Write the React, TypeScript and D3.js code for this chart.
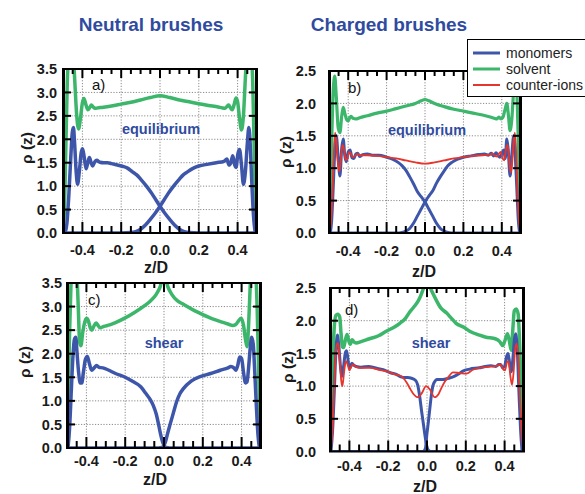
import React from 'react';
import * as d3 from 'd3';

type Pt = [number, number];

// axis ticks
const xTicks = [-0.4, -0.2, 0, 0.2, 0.4];
const yTicksNeutral = [0, 0.5, 1, 1.5, 2, 2.5, 3, 3.5];
const yTicksCharged = [0, 0.5, 1, 1.5, 2, 2.5];

const legendNames = ['monomers', 'solvent', 'counter-ions'];
const colMono = '#3d56aa';
const colSolv = '#3cb66a';
const colIons = '#e5352c';

// a) neutral, equilibrium
const aSolvent: Pt[] = [[-0.5,0],[-0.492,0.6],[-0.485,1.9],[-0.478,3.2],[-0.47,3.9],[-0.46,4.2],[-0.45,4.0],[-0.44,3.3],[-0.43,2.55],[-0.42,2.22],[-0.41,2.45],[-0.4,2.78],[-0.392,2.87],[-0.382,2.74],[-0.372,2.63],[-0.362,2.68],[-0.354,2.73],[-0.345,2.69],[-0.335,2.66],[-0.32,2.67],[-0.3,2.68],[-0.25,2.71],[-0.2,2.75],[-0.15,2.79],[-0.1,2.84],[-0.05,2.89],[0,2.93],[0.05,2.89],[0.1,2.84],[0.15,2.8],[0.2,2.76],[0.25,2.72],[0.3,2.69],[0.32,2.67],[0.335,2.66],[0.345,2.7],[0.354,2.73],[0.362,2.68],[0.372,2.63],[0.382,2.74],[0.392,2.88],[0.4,2.8],[0.41,2.45],[0.42,2.2],[0.43,2.5],[0.44,3.3],[0.45,4.0],[0.46,4.2],[0.47,3.9],[0.478,3.2],[0.485,1.9],[0.492,0.6],[0.5,0]];
const aMonoLeft: Pt[] = [[-0.49,0],[-0.48,0.2],[-0.47,0.8],[-0.46,1.6],[-0.452,2.15],[-0.446,2.25],[-0.44,1.9],[-0.432,1.3],[-0.425,1.04],[-0.415,1.35],[-0.406,1.72],[-0.399,1.8],[-0.39,1.6],[-0.381,1.37],[-0.372,1.5],[-0.364,1.61],[-0.355,1.5],[-0.347,1.43],[-0.336,1.52],[-0.326,1.55],[-0.31,1.51],[-0.29,1.5],[-0.27,1.5],[-0.25,1.48],[-0.22,1.45],[-0.19,1.42],[-0.17,1.39],[-0.14,1.3],[-0.12,1.24],[-0.1,1.15],[-0.07,1.0],[-0.04,0.83],[-0.02,0.7],[0,0.57],[0.025,0.42],[0.05,0.29],[0.075,0.17],[0.1,0.08],[0.125,0.03],[0.15,0.01],[0.2,0],[0.49,0]];
const aMonoRight: Pt[] = [[-0.49,0],[-0.2,0],[-0.15,0.01],[-0.125,0.03],[-0.1,0.08],[-0.075,0.17],[-0.05,0.29],[-0.025,0.42],[0,0.57],[0.02,0.7],[0.04,0.83],[0.07,1.0],[0.1,1.15],[0.12,1.24],[0.14,1.3],[0.17,1.38],[0.2,1.43],[0.25,1.47],[0.29,1.5],[0.33,1.53],[0.345,1.58],[0.355,1.45],[0.365,1.5],[0.375,1.65],[0.385,1.45],[0.392,1.4],[0.402,1.7],[0.41,1.78],[0.42,1.45],[0.43,1.04],[0.44,1.3],[0.45,1.9],[0.458,2.25],[0.465,1.9],[0.472,1.2],[0.48,0.5],[0.488,0.1],[0.492,0]];

// b) charged, equilibrium
const bSolvent: Pt[] = [[-0.5,0],[-0.493,0.5],[-0.486,1.4],[-0.478,2.2],[-0.47,2.42],[-0.462,2.1],[-0.452,1.62],[-0.443,1.55],[-0.434,1.8],[-0.426,1.94],[-0.418,1.85],[-0.408,1.75],[-0.4,1.73],[-0.392,1.78],[-0.385,1.8],[-0.375,1.77],[-0.36,1.76],[-0.34,1.78],[-0.3,1.81],[-0.25,1.85],[-0.2,1.88],[-0.15,1.92],[-0.1,1.96],[-0.05,2.0],[-0.02,2.04],[0,2.06],[0.02,2.04],[0.05,2.0],[0.1,1.95],[0.15,1.91],[0.2,1.88],[0.25,1.85],[0.3,1.82],[0.34,1.79],[0.36,1.77],[0.375,1.76],[0.385,1.79],[0.395,1.76],[0.405,1.78],[0.418,1.92],[0.426,2.0],[0.435,1.8],[0.443,1.58],[0.452,1.75],[0.462,2.2],[0.47,2.42],[0.478,2.2],[0.486,1.4],[0.493,0.5],[0.5,0]];
const bCounter: Pt[] = [[-0.5,0],[-0.49,0.15],[-0.482,0.6],[-0.475,1.2],[-0.468,1.55],[-0.46,1.35],[-0.453,1.05],[-0.446,0.95],[-0.438,1.15],[-0.43,1.36],[-0.422,1.3],[-0.413,1.12],[-0.404,1.15],[-0.395,1.25],[-0.386,1.22],[-0.376,1.17],[-0.365,1.19],[-0.352,1.22],[-0.34,1.2],[-0.3,1.2],[-0.25,1.19],[-0.2,1.17],[-0.15,1.15],[-0.1,1.12],[-0.05,1.09],[0,1.07],[0.05,1.09],[0.1,1.12],[0.15,1.15],[0.2,1.17],[0.25,1.19],[0.3,1.2],[0.34,1.21],[0.352,1.23],[0.365,1.19],[0.376,1.18],[0.386,1.23],[0.395,1.25],[0.404,1.15],[0.413,1.12],[0.422,1.3],[0.43,1.36],[0.438,1.15],[0.446,0.93],[0.453,1.05],[0.46,1.35],[0.468,1.55],[0.475,1.2],[0.482,0.6],[0.49,0.15],[0.5,0]];
const bMonoLeft: Pt[] = [[-0.493,0],[-0.486,0.2],[-0.478,0.7],[-0.47,1.25],[-0.462,1.5],[-0.452,1.15],[-0.443,0.88],[-0.434,1.3],[-0.426,1.45],[-0.418,1.2],[-0.41,1.1],[-0.4,1.25],[-0.39,1.28],[-0.38,1.16],[-0.37,1.15],[-0.36,1.22],[-0.35,1.23],[-0.34,1.18],[-0.325,1.21],[-0.3,1.22],[-0.27,1.2],[-0.24,1.2],[-0.2,1.17],[-0.17,1.14],[-0.14,1.09],[-0.12,1.04],[-0.1,0.97],[-0.08,0.87],[-0.06,0.76],[-0.04,0.64],[-0.02,0.56],[0,0.48],[0.02,0.37],[0.04,0.26],[0.06,0.15],[0.08,0.07],[0.1,0.03],[0.12,0.01],[0.15,0],[0.495,0]];
const bMonoRight: Pt[] = [[-0.495,0],[-0.15,0],[-0.12,0.01],[-0.1,0.03],[-0.08,0.07],[-0.06,0.15],[-0.04,0.26],[-0.02,0.37],[0,0.48],[0.02,0.57],[0.042,0.66],[0.06,0.77],[0.08,0.87],[0.1,0.96],[0.12,1.04],[0.14,1.09],[0.17,1.14],[0.2,1.17],[0.24,1.19],[0.28,1.21],[0.31,1.22],[0.33,1.2],[0.345,1.23],[0.358,1.19],[0.37,1.24],[0.38,1.2],[0.39,1.17],[0.4,1.22],[0.41,1.28],[0.418,1.15],[0.426,1.45],[0.433,1.3],[0.443,0.88],[0.452,1.2],[0.462,1.5],[0.47,1.2],[0.478,0.7],[0.486,0.2],[0.493,0]];

// c) neutral, shear
const cSolvent: Pt[] = [[-0.5,0],[-0.494,1.0],[-0.487,2.4],[-0.48,3.4],[-0.47,4.0],[-0.46,4.2],[-0.45,3.8],[-0.442,3.0],[-0.435,2.25],[-0.428,2.17],[-0.42,2.42],[-0.41,2.65],[-0.4,2.75],[-0.39,2.7],[-0.38,2.55],[-0.372,2.5],[-0.362,2.58],[-0.35,2.65],[-0.34,2.6],[-0.33,2.55],[-0.31,2.58],[-0.28,2.61],[-0.25,2.66],[-0.2,2.76],[-0.15,2.88],[-0.1,3.02],[-0.07,3.12],[-0.04,3.26],[-0.02,3.42],[0,3.7],[0.02,3.42],[0.04,3.26],[0.07,3.12],[0.1,3.05],[0.15,2.93],[0.2,2.83],[0.25,2.74],[0.3,2.67],[0.33,2.63],[0.355,2.6],[0.37,2.62],[0.385,2.7],[0.398,2.75],[0.41,2.6],[0.42,2.3],[0.428,2.15],[0.436,2.6],[0.444,3.4],[0.452,4.0],[0.462,4.2],[0.472,3.8],[0.48,3.0],[0.487,1.8],[0.494,0.6],[0.5,0]];
const cMonoLeft: Pt[] = [[-0.495,0],[-0.487,0.4],[-0.478,1.2],[-0.47,1.9],[-0.462,2.3],[-0.455,2.35],[-0.448,2.0],[-0.44,1.6],[-0.432,1.38],[-0.424,1.38],[-0.415,1.62],[-0.405,1.88],[-0.395,1.94],[-0.385,1.8],[-0.373,1.65],[-0.36,1.7],[-0.347,1.75],[-0.335,1.71],[-0.315,1.7],[-0.29,1.66],[-0.25,1.58],[-0.2,1.5],[-0.16,1.41],[-0.12,1.3],[-0.094,1.16],[-0.07,1.02],[-0.055,0.9],[-0.04,0.72],[-0.029,0.52],[-0.018,0.3],[-0.008,0.14],[0,0.06],[0.01,0.01],[0.03,0],[0.495,0]];
const cMonoRight: Pt[] = [[-0.495,0],[-0.03,0],[-0.01,0.01],[0,0.06],[0.008,0.14],[0.018,0.3],[0.03,0.48],[0.048,0.74],[0.065,0.98],[0.082,1.15],[0.1,1.26],[0.14,1.42],[0.19,1.52],[0.24,1.58],[0.29,1.65],[0.33,1.7],[0.345,1.73],[0.36,1.7],[0.37,1.65],[0.38,1.75],[0.39,1.93],[0.4,1.9],[0.41,1.6],[0.42,1.38],[0.428,1.4],[0.436,1.7],[0.444,2.1],[0.452,2.35],[0.46,2.2],[0.468,1.6],[0.476,0.9],[0.484,0.3],[0.492,0]];

// d) charged, shear
const dSolvent: Pt[] = [[-0.5,0],[-0.493,0.5],[-0.486,1.3],[-0.478,1.9],[-0.47,2.08],[-0.46,2.1],[-0.45,2.06],[-0.443,1.8],[-0.436,1.6],[-0.43,1.59],[-0.421,1.7],[-0.412,1.79],[-0.404,1.7],[-0.396,1.64],[-0.386,1.71],[-0.378,1.68],[-0.365,1.66],[-0.34,1.68],[-0.3,1.72],[-0.25,1.77],[-0.21,1.84],[-0.17,1.9],[-0.14,1.96],[-0.11,2.04],[-0.09,2.13],[-0.065,2.22],[-0.046,2.3],[-0.03,2.4],[-0.018,2.5],[0,2.75],[0.018,2.5],[0.03,2.42],[0.045,2.33],[0.07,2.2],[0.1,2.12],[0.125,2.04],[0.15,1.96],[0.19,1.9],[0.22,1.84],[0.27,1.78],[0.3,1.75],[0.355,1.72],[0.375,1.68],[0.39,1.62],[0.4,1.68],[0.415,1.8],[0.424,1.7],[0.434,1.55],[0.442,1.85],[0.45,2.15],[0.46,2.18],[0.47,2.1],[0.478,1.6],[0.486,0.9],[0.493,0.3],[0.5,0]];
const dCounter: Pt[] = [[-0.5,0],[-0.49,0.2],[-0.482,0.7],[-0.474,1.3],[-0.466,1.62],[-0.458,1.66],[-0.45,1.4],[-0.442,1.08],[-0.436,1.0],[-0.428,1.2],[-0.418,1.38],[-0.41,1.34],[-0.4,1.24],[-0.39,1.3],[-0.38,1.33],[-0.368,1.3],[-0.35,1.28],[-0.32,1.28],[-0.29,1.28],[-0.25,1.25],[-0.21,1.23],[-0.166,1.18],[-0.132,1.15],[-0.106,1.06],[-0.085,0.95],[-0.07,0.88],[-0.046,0.83],[-0.025,0.9],[-0.005,1.0],[0.015,0.95],[0.039,0.83],[0.06,0.88],[0.074,0.97],[0.09,1.06],[0.108,1.13],[0.134,1.21],[0.168,1.2],[0.203,1.19],[0.237,1.25],[0.27,1.28],[0.3,1.29],[0.33,1.3],[0.36,1.31],[0.38,1.33],[0.392,1.26],[0.402,1.24],[0.412,1.36],[0.42,1.38],[0.43,1.15],[0.438,1.02],[0.446,1.2],[0.454,1.55],[0.462,1.65],[0.47,1.45],[0.478,0.9],[0.486,0.4],[0.493,0.1],[0.5,0]];
const dMonoLeft: Pt[] = [[-0.495,0],[-0.487,0.3],[-0.478,0.9],[-0.47,1.5],[-0.462,1.78],[-0.454,1.6],[-0.446,1.3],[-0.438,1.15],[-0.43,1.3],[-0.42,1.52],[-0.414,1.54],[-0.405,1.35],[-0.397,1.28],[-0.387,1.35],[-0.378,1.32],[-0.365,1.3],[-0.34,1.29],[-0.3,1.3],[-0.27,1.28],[-0.225,1.25],[-0.185,1.2],[-0.158,1.18],[-0.135,1.14],[-0.115,1.13],[-0.1,1.13],[-0.08,1.12],[-0.06,1.09],[-0.048,1.02],[-0.037,0.83],[-0.028,0.62],[-0.02,0.45],[-0.012,0.28],[-0.005,0.14],[0.005,0.03],[0.02,0],[0.495,0]];
const dMonoRight: Pt[] = [[-0.495,0],[-0.02,0],[-0.008,0.05],[0,0.28],[0.007,0.45],[0.014,0.64],[0.022,0.85],[0.03,1.0],[0.04,1.07],[0.05,1.1],[0.082,1.1],[0.11,1.12],[0.134,1.14],[0.16,1.18],[0.185,1.23],[0.22,1.26],[0.27,1.28],[0.3,1.3],[0.33,1.31],[0.355,1.3],[0.37,1.33],[0.38,1.33],[0.39,1.28],[0.4,1.3],[0.41,1.45],[0.418,1.5],[0.426,1.35],[0.434,1.22],[0.442,1.4],[0.45,1.7],[0.458,1.8],[0.466,1.5],[0.474,0.9],[0.482,0.35],[0.49,0]];

const FONT = '"Liberation Sans", Arial, Helvetica, sans-serif';
const BLUE_TEXT = '#2f4b9f';

type Series = { data: Pt[]; color: string; width: number };

type PanelProps = {
  id: string;
  left: number; right: number; top: number; bottom: number;
  yMax: number; yTicks: number[];
  yLabelRight: number; xTickBase: number;
  zdX: number; zdBase: number;
  rhoX: number; rhoY: number;
  tag: string; tagX: number; tagY: number;
  note: string; noteX: number; noteY: number;
  series: Series[];
};

const Panel = (p: PanelProps) => {
  const x = d3.scaleLinear().domain([-0.5, 0.5]).range([p.left, p.right]);
  const y = d3.scaleLinear().domain([0, p.yMax]).range([p.bottom, p.top]);
  const line = d3.line<Pt>().x(d => x(d[0])).y(d => y(d[1])).curve(d3.curveMonotoneX);
  const minor = d3.range(-9, 10).map(i => i * 0.05);
  const isMajor = (t: number) => Math.abs(t * 5 - Math.round(t * 5)) < 1e-6;
  const w = p.right - p.left;
  const h = p.bottom - p.top;

  return (
    <g>
      <defs>
        <clipPath id={p.id}>
          <rect x={p.left} y={p.top} width={w} height={h} />
        </clipPath>
      </defs>
      <rect x={p.left} y={p.top} width={w} height={h} fill="#fff" />
      {/* grid */}
      {xTicks.map(t => (
        <line key={'gx' + t} x1={x(t)} x2={x(t)} y1={p.top} y2={p.bottom}
          stroke="#8a8a8a" strokeWidth={1} strokeDasharray="1.2,1.6" />
      ))}
      {p.yTicks.filter(t => t > 0 && t < p.yMax).map(t => (
        <line key={'gy' + t} x1={p.left} x2={p.right} y1={y(t)} y2={y(t)}
          stroke="#8a8a8a" strokeWidth={1} strokeDasharray="1.2,1.6" />
      ))}
      {/* curves */}
      <g clipPath={`url(#${p.id})`}>
        {p.series.map((s, i) => (
          <path key={i} d={line(s.data) || ''} fill="none" stroke={s.color}
            strokeWidth={s.width} strokeLinejoin="round" strokeLinecap="round" />
        ))}
      </g>
      {/* frame */}
      <rect x={p.left} y={p.top} width={w} height={h} fill="none" stroke="#000" strokeWidth={2} />
      <line x1={p.left + 0.5} x2={p.left + 0.5} y1={p.top} y2={p.bottom} stroke="#000" strokeWidth={3} />
      <line x1={p.right - 0.5} x2={p.right - 0.5} y1={p.top} y2={p.bottom} stroke="#000" strokeWidth={3} />
      {/* x ticks, inward on bottom and top */}
      {minor.map(t => {
        const len = isMajor(t) ? 11 : 7;
        return (
          <g key={'tx' + t}>
            <line x1={x(t)} x2={x(t)} y1={p.bottom} y2={p.bottom - len} stroke="#000" strokeWidth={2} />
            <line x1={x(t)} x2={x(t)} y1={p.top} y2={p.top + len - 2} stroke="#000" strokeWidth={2} />
          </g>
        );
      })}
      {/* y ticks, inward on left and right */}
      {p.yTicks.filter(t => t > 0 && t < p.yMax).map(t => (
        <g key={'ty' + t}>
          <line x1={p.left} x2={p.left + 8} y1={y(t)} y2={y(t)} stroke="#000" strokeWidth={2} />
          <line x1={p.right} x2={p.right - 8} y1={y(t)} y2={y(t)} stroke="#000" strokeWidth={2} />
        </g>
      ))}
      {/* tick labels */}
      {xTicks.map(t => (
        <text key={'lx' + t} x={x(t)} y={p.xTickBase} textAnchor="middle"
          fontFamily={FONT} fontWeight="bold" fontSize={14.5} fill="#1a1a1a">
          {t.toFixed(1)}
        </text>
      ))}
      {p.yTicks.map(t => (
        <text key={'ly' + t} x={p.yLabelRight} y={y(t)} dy="0.36em" textAnchor="end"
          fontFamily={FONT} fontWeight="bold" fontSize={14.5} fill="#1a1a1a">
          {t.toFixed(1)}
        </text>
      ))}
      {/* axis titles */}
      <text x={p.zdX} y={p.zdBase} textAnchor="middle" fontFamily={FONT}
        fontWeight="bold" fontSize={16} fill="#1a1a1a">z/D</text>
      <text transform={`translate(${p.rhoX},${p.rhoY}) rotate(-90)`} textAnchor="middle"
        dy="0.35em" fontFamily={FONT} fontWeight="bold" fontSize={15.5} fill="#1a1a1a">ρ (z)</text>
      {/* panel tag and state */}
      <text x={p.tagX} y={p.tagY} fontFamily={FONT} fontSize={15} fill="#111">{p.tag}</text>
      <text x={p.noteX} y={p.noteY} textAnchor="middle" fontFamily={FONT}
        fontWeight="bold" fontSize={14.5} fill={BLUE_TEXT}>{p.note}</text>
    </g>
  );
};

export default function App() {
  const legendColors = [colMono, colSolv, colIons];
  const legendWidths = [3, 3, 2];
  return (
    <svg width={585} height={494} viewBox="0 0 585 494"
      style={{ position: 'absolute', left: 0, top: 0, background: '#fff' }}>
      <text x={151} y={31} textAnchor="middle" fontFamily={FONT} fontWeight="bold"
        fontSize={19} fill={BLUE_TEXT}>Neutral brushes</text>
      <text x={389} y={31} textAnchor="middle" fontFamily={FONT} fontWeight="bold"
        fontSize={19} fill={BLUE_TEXT}>Charged brushes</text>

      <Panel id="clipA" left={63} right={257} top={69} bottom={233} yMax={3.5}
        yTicks={yTicksNeutral} yLabelRight={57} xTickBase={254.5} zdX={156} zdBase={273}
        rhoX={27} rhoY={148} tag="a)" tagX={92} tagY={90}
        note="equilibrium" noteX={161} noteY={134}
        series={[
          { data: aSolvent, color: colSolv, width: 3.5 },
          { data: aMonoLeft, color: colMono, width: 3.5 },
          { data: aMonoRight, color: colMono, width: 3.5 },
        ]} />

      <Panel id="clipB" left={329} right={521} top={71} bottom={233} yMax={2.5}
        yTicks={yTicksCharged} yLabelRight={316} xTickBase={255.5} zdX={424} zdBase={277}
        rhoX={286} rhoY={152} tag="b)" tagX={348} tagY={93}
        note="equilibrium" noteX={427} noteY={135}
        series={[
          { data: bSolvent, color: colSolv, width: 3.2 },
          { data: bMonoLeft, color: colMono, width: 3 },
          { data: bMonoRight, color: colMono, width: 3 },
          { data: bCounter, color: colIons, width: 1.8 },
        ]} />

      <Panel id="clipC" left={67} right={261} top={283} bottom={448} yMax={3.5}
        yTicks={yTicksNeutral} yLabelRight={62} xTickBase={466} zdX={155} zdBase={485}
        rhoX={25} rhoY={362} tag="c)" tagX={88} tagY={305}
        note="shear" noteX={164} noteY={348}
        series={[
          { data: cSolvent, color: colSolv, width: 3.5 },
          { data: cMonoLeft, color: colMono, width: 3.5 },
          { data: cMonoRight, color: colMono, width: 3.5 },
        ]} />

      <Panel id="clipD" left={330} right={524} top={288} bottom={451.5} yMax={2.5}
        yTicks={yTicksCharged} yLabelRight={316} xTickBase={471} zdX={425} zdBase={492}
        rhoX={288} rhoY={367} tag="d)" tagX={345} tagY={315}
        note="shear" noteX={431} noteY={348}
        series={[
          { data: dSolvent, color: colSolv, width: 3.5 },
          { data: dMonoLeft, color: colMono, width: 3 },
          { data: dMonoRight, color: colMono, width: 3 },
          { data: dCounter, color: colIons, width: 1.8 },
        ]} />

      {/* legend */}
      <g>
        <rect x={467.5} y={39.5} width={130} height={57} fill="#fff" stroke="#000" strokeWidth={1} />
        {legendNames.map((n, i) => (
          <g key={n}>
            <line x1={473} x2={500} y1={53 + i * 16} y2={53 + i * 16}
              stroke={legendColors[i]} strokeWidth={legendWidths[i]} />
            <text x={506} y={53 + i * 16} dy="0.35em" fontFamily={FONT} fontSize={14} fill="#222">{n}</text>
          </g>
        ))}
      </g>
    </svg>
  );
}
